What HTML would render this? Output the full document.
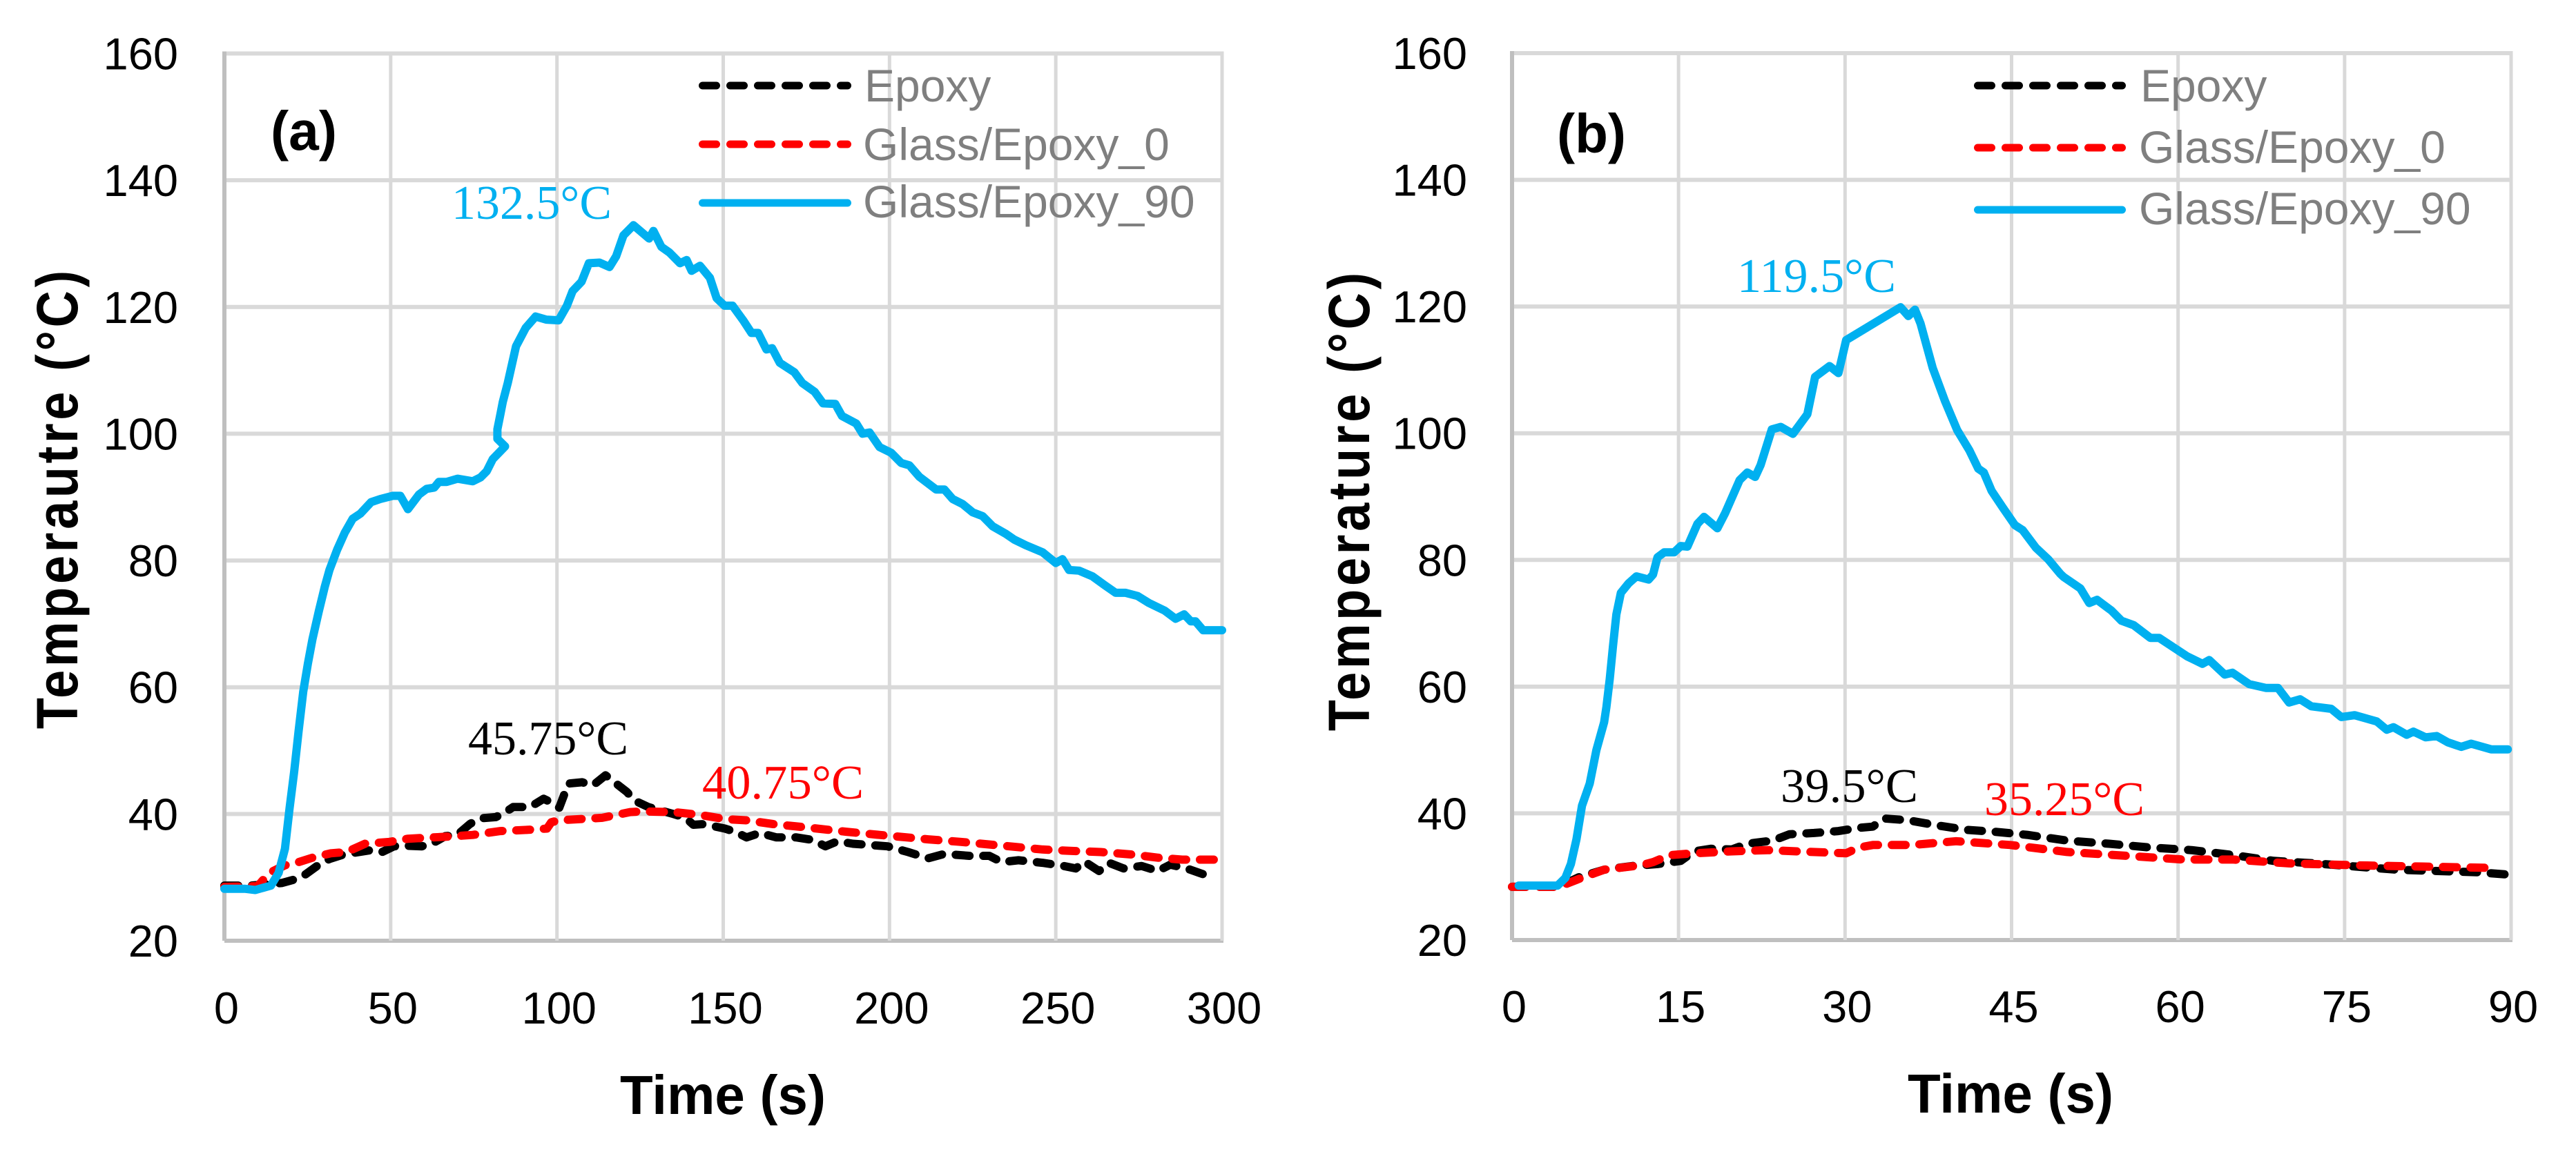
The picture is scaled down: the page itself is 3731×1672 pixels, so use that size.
<!DOCTYPE html>
<html lang="en">
<head>
<meta charset="utf-8">
<title>Temperature vs time</title>
<style>
html,body{margin:0;padding:0;background:#fff}
svg{display:block}
text{font-family:"Liberation Sans",sans-serif}
.ann{font-family:"Liberation Serif",serif;font-size:70px}
.tick{font-size:65px;fill:#000}
.leg{font-size:66px;fill:#7f7f7f}
.title{font-size:80px;font-weight:bold;fill:#000}
.ytitle{font-size:84px;font-weight:bold;fill:#000}
.tag{font-size:80px;font-weight:bold;fill:#000}
</style>
</head>
<body>
<svg id="fig" xmlns="http://www.w3.org/2000/svg" width="3731" height="1672" viewBox="0 0 3731 1672">
  <rect width="3731" height="1672" fill="#fff"/>
  <g id="panelA">
    <g id="gridA"></g>
    <g id="ticksA"></g>
    <g id="seriesA"></g>
    <text class="ytitle" transform="translate(112,724) rotate(-90) scale(.88,1)" text-anchor="middle" textLength="755" lengthAdjust="spacing">Temperautre (°C)</text>
    <text class="title" x="1047" y="1614" text-anchor="middle" textLength="298" lengthAdjust="spacingAndGlyphs">Time (s)</text>
    <text class="tag" x="392" y="217" textLength="96" lengthAdjust="spacingAndGlyphs">(a)</text>
    <line x1="1017.5" x2="1227.5" y1="124" y2="124" stroke="#000" stroke-width="11" stroke-linecap="round" stroke-dasharray="20 20"/>
    <line x1="1017.5" x2="1227.5" y1="209" y2="209" stroke="#f00" stroke-width="11" stroke-linecap="round" stroke-dasharray="20 20"/>
    <line x1="1017.5" x2="1227.5" y1="294" y2="294" stroke="#00b0f0" stroke-width="11" stroke-linecap="round"/>
    <text class="leg" x="1252" y="147">Epoxy</text>
    <text class="leg" x="1250" y="232">Glass/Epoxy_0</text>
    <text class="leg" x="1250" y="315">Glass/Epoxy_90</text>
    <text class="ann" x="654" y="317" fill="#00b0f0" textLength="232" lengthAdjust="spacingAndGlyphs">132.5°C</text>
    <text class="ann" x="678" y="1093" fill="#000" textLength="232" lengthAdjust="spacingAndGlyphs">45.75°C</text>
    <text class="ann" x="1017" y="1157" fill="#f00" textLength="234" lengthAdjust="spacingAndGlyphs">40.75°C</text>
  </g>
  <g id="panelB">
    <g id="gridB"></g>
    <g id="ticksB"></g>
    <g id="seriesB"></g>
    <text class="ytitle" transform="translate(1983,727) rotate(-90) scale(.88,1)" text-anchor="middle" textLength="755" lengthAdjust="spacing">Temperature (°C)</text>
    <text class="title" x="2912" y="1612" text-anchor="middle" textLength="298" lengthAdjust="spacingAndGlyphs">Time (s)</text>
    <text class="tag" x="2255" y="221" textLength="100" lengthAdjust="spacingAndGlyphs">(b)</text>
    <line x1="2864.5" x2="3073.5" y1="124" y2="124" stroke="#000" stroke-width="11" stroke-linecap="round" stroke-dasharray="20 20"/>
    <line x1="2864.5" x2="3073.5" y1="214" y2="214" stroke="#f00" stroke-width="11" stroke-linecap="round" stroke-dasharray="20 20"/>
    <line x1="2864.5" x2="3073.5" y1="304" y2="304" stroke="#00b0f0" stroke-width="11" stroke-linecap="round"/>
    <text class="leg" x="3100" y="147">Epoxy</text>
    <text class="leg" x="3098" y="236">Glass/Epoxy_0</text>
    <text class="leg" x="3098" y="325">Glass/Epoxy_90</text>
    <text class="ann" x="2516" y="423" fill="#00b0f0" textLength="230" lengthAdjust="spacingAndGlyphs">119.5°C</text>
    <text class="ann" x="2579" y="1162" fill="#000" textLength="199" lengthAdjust="spacingAndGlyphs">39.5°C</text>
    <text class="ann" x="2874" y="1181" fill="#f00" textLength="232" lengthAdjust="spacingAndGlyphs">35.25°C</text>
  </g>
</svg>
<script>
const yTicks = [20,40,60,80,100,120,140,160];
const xTicksA = [0,50,100,150,200,250,300];
const xTicksB = [0,15,30,45,60,75,90];

const epoxyTimeA = [0,7.9,17.2,21.4,24.2,28.4,31.6,35.8,44.1,47.4,51,54.3,59.4,62.7,66.4,70,73.8,76.6,81.6,84,86.8,88.6,91.9,96,99.2,100.7,102,103.4,107.6,110.8,114.6,117.3,121,123.4,127.5,135,138.7,141,144.2,150.5,153.6,157,161,166,172,177,180.7,184.4,189,199.4,205.6,211.6,216.5,224,230,233.8,238.8,246,252.4,256,258.6,263,266,270.4,275.8,280.7,284.4,289.4,294.3,298];
const epoxyTempA = [28.7,28.7,29.1,29.7,30.4,32,32.9,33.6,34.3,34,34.9,35,34.9,35.4,36.5,36.7,38.4,39.3,39.5,40.1,41.1,41.1,41.1,42.4,41.6,41,42.8,44.8,45,44.5,46.1,45,43.5,42.1,41.1,40,39.4,38.3,38.4,37.7,37.2,36.3,37,36.3,36.3,35.9,34.9,35.7,35.3,34.9,34,33,33.7,33.4,33.4,32.4,32.7,32.3,31.8,31.4,32.5,31,32.3,31.4,31.8,31,32,31.4,30.5,30.5];

const glass0TimeA = [0,10,13.5,18.2,22.3,26.5,32,36.7,42.3,49.6,55.2,66.4,74.7,83,91.4,97,98.3,100.6,113.6,122,125.6,135,142.4,150.5,157,165,174.6,187,197,211.6,221.5,236,246,253.6,263.5,273,280.7,288,298];
const glass0TempA = [28.5,28.6,30.7,31.9,32.4,33.1,33.8,34,35.3,35.6,36.1,36.4,36.7,37.3,37.5,37.7,38.7,39,39.4,40.3,40.4,40.3,39.9,39.2,39,38.4,37.9,37.2,36.7,36,35.6,34.9,34.4,34.2,34,33.6,33.1,32.8,32.8];

const glass90TimeA = [0,6.1,9.3,14,16.3,18.2,19.6,21,22.3,23.7,25.1,26.5,28.4,30.2,31.6,33.9,36.2,38.6,40.9,44.1,46.9,50.6,52.9,55.2,58.5,60.8,63.1,64.5,66.8,70.1,74.7,77,78.9,80.7,84.4,82.1,82.1,83,83.7,85.2,87.7,90.6,93.6,96.8,100.5,103,104.7,107.4,109.6,112.8,115.8,117.8,120,123,127.7,129,131.4,133.8,137,139,140.5,143,146,148,150.4,152.8,156,158.5,160.5,163,164.7,167,171.4,173.8,177.5,180,183.7,185.7,190,191.9,194,197,200.5,203.5,206,209,214,216.5,219,222,225,228,231,235,237.5,241,246,250,252,254,257,261,264.7,268,271,274.6,278,282.7,286,288.6,290.6,292,294.3,300];
const glass90TempA = [28.2,28.2,28,28.7,30.7,34.5,40.9,46.7,53,59.3,63.7,67.6,72,75.9,78.5,81.7,84.4,86.6,87.4,89.2,89.7,90.2,90.2,88.1,90.4,91.3,91.5,92.4,92.4,92.9,92.5,93.1,94.1,96,98,99.2,100.7,103.1,105,108,113.8,116.7,118.5,118,117.9,120.2,122.5,124,126.9,127,126.3,128,131.3,132.9,130.8,132,129.5,128.6,126.9,127.4,125.7,126.5,124.6,121.4,120.2,120.2,117.9,115.9,115.9,113.3,113.5,111.2,109.7,108,106.6,104.8,104.7,102.8,101.6,100,100.2,97.9,97,95.4,95,93.2,91.2,91.2,89.7,88.9,87.6,87,85.4,84.2,83.3,82.4,81.3,79.6,80.2,78.5,78.4,77.5,76.1,74.9,74.9,74.4,73.3,72.1,70.8,71.5,70.4,70.4,69,69];

const epoxyTimeB = [0,4.2,6,8.3,10.9,13.1,15.2,16.4,17.9,19.8,21.2,23.5,25,27.2,29.4,31.2,32.5,33.5,35.7,38.3,40.9,43.4,46.4,50,53.8,57.5,61.2,65,68.6,72.3,76,79.7,83.4,87,90];
const epoxyTempB = [28.4,28.4,29.9,31.1,31.7,32,32.5,34,34.4,34.3,35.2,35.7,36.7,36.9,37.2,37.7,37.9,39.2,38.9,38.1,37.4,37.1,36.6,35.7,35.2,34.6,34.2,33.4,32.5,32.1,31.6,31.1,30.9,30.7,30.3];

const glass0TimeB = [0,4.2,6.4,8.3,11.6,12.7,14.2,16.4,19.8,23,25.7,30.1,31.2,32.5,36,40,44.9,50,55.3,60.5,65,70,76,82,87.9];
const glass0TempB = [28.4,28.4,29.9,31.1,31.8,32.3,33.4,33.7,34,34.2,34,33.7,34.6,35,35,35.6,35,33.9,33.3,32.7,32.7,32.1,31.8,31.6,31.4];

const glass90TimeB = [0.6,4.1,4.8,5.3,5.8,6.3,7,7.6,8.3,8.5,8.8,9.1,9.4,9.8,10.5,11.2,12.3,12.7,13.1,13.7,14.6,15.2,15.8,16.7,17.3,18.5,19.2,20.5,21.2,21.9,22.4,23.4,24.2,25.3,26.6,27.3,28.6,29.4,30.1,35,35.7,36.3,36.8,37.9,39,40.1,41.2,42,42.5,43.2,44.2,45.3,46,47.2,48.3,49.4,49.7,51.2,52,52.7,54,54.9,56,57.5,58.3,60.8,62.2,62.8,64.2,64.9,66.4,67.9,69,70,71,72,73.8,74.7,75.9,77.9,78.8,79.4,80.6,81.2,82.3,83.3,84.3,85.5,86.4,88.2,89.7];
const glass90TempB = [28.6,28.6,29.8,32,35.9,41.2,44.7,50,54.4,56.8,61.2,66.5,71.4,74.8,76.3,77.4,76.9,77.7,80.4,81.2,81.2,82.2,82.1,85.7,86.8,85,87.4,92.6,93.8,93.1,95,100.6,101,99.9,103,108.9,110.6,109.5,114.7,119.9,118.5,119.5,117.3,110.3,105.1,100.5,97.3,94.4,93.8,90.9,88.3,85.5,84.7,81.9,80.1,77.8,77.3,75.5,73.2,73.7,72,70.4,69.7,67.7,67.7,64.8,63.6,64.2,61.9,62.2,60.4,59.8,59.8,57.5,58,56.9,56.5,55.2,55.5,54.5,53.2,53.6,52.4,52.9,52,52.2,51.2,50.5,51,50.1,50.1];

const NS = 'http://www.w3.org/2000/svg';

function drawPanel(suffix, left, right, top, bottom, xMax, xTicks, yLabelX, xLabelY, series) {
  const xScale = t => left + t * (right - left) / xMax;
  const yScale = v => bottom - (v - 20) * (bottom - top) / 140;
  const grid = document.getElementById('grid' + suffix);
  const ticks = document.getElementById('ticks' + suffix);
  const lines = document.getElementById('series' + suffix);
  const low = suffix.toLowerCase();

  yTicks.forEach(v => {
    const g = document.createElementNS(NS, 'line');
    
    
    g.setAttribute('x1', left); g.setAttribute('x2', right + 2);
    g.setAttribute('y1', yScale(v)); g.setAttribute('y2', yScale(v));
    g.setAttribute('stroke', v === 20 ? '#bfbfbf' : '#d9d9d9');
    g.setAttribute('stroke-width', 6);
    grid.appendChild(g);
    const t = document.createElementNS(NS, 'text');
    
    
    t.setAttribute('class', 'tick');
    t.setAttribute('x', yLabelX);
    t.setAttribute('y', yScale(v) + 23);
    t.setAttribute('text-anchor', 'end');
    t.textContent = v;
    ticks.appendChild(t);
  });

  xTicks.forEach((v, i) => {
    const g = document.createElementNS(NS, 'line');
    
    
    g.setAttribute('x1', xScale(v)); g.setAttribute('x2', xScale(v));
    g.setAttribute('y1', yScale(160) - 3); g.setAttribute('y2', yScale(20));
    g.setAttribute('stroke', i === 0 ? '#bfbfbf' : '#d9d9d9');
    g.setAttribute('stroke-width', i === 0 ? 6 : 5);
    grid.appendChild(g);
    const t = document.createElementNS(NS, 'text');
    
    
    t.setAttribute('class', 'tick');
    t.setAttribute('x', xScale(v) + 3);
    t.setAttribute('y', xLabelY);
    t.setAttribute('text-anchor', 'middle');
    t.textContent = v;
    ticks.appendChild(t);
  });

  series.forEach(s => {
    const p = document.createElementNS(NS, 'polyline');
    
    
    p.setAttribute('points', s.time.map((t, i) => xScale(t).toFixed(1) + ',' + yScale(s.temp[i]).toFixed(1)).join(' '));
    p.setAttribute('fill', 'none');
    p.setAttribute('stroke', s.color);
    p.setAttribute('stroke-width', 12);
    p.setAttribute('stroke-linecap', 'round');
    p.setAttribute('stroke-linejoin', 'round');
    if (s.dash) p.setAttribute('stroke-dasharray', '20 20');
    lines.appendChild(p);
  });
}

drawPanel('A', 325, 1770, 77.5, 1363, 300, xTicksA, 258, 1483, [
  {name:'epoxy', time:epoxyTimeA, temp:epoxyTempA, color:'#000', dash:true},
  {name:'glass-0', time:glass0TimeA, temp:glass0TempA, color:'#f00', dash:true},
  {name:'glass-90', time:glass90TimeA, temp:glass90TempA, color:'#00b0f0', dash:false}
]);
drawPanel('B', 2190, 3637, 77, 1362, 90, xTicksB, 2125, 1481, [
  {name:'epoxy', time:epoxyTimeB, temp:epoxyTempB, color:'#000', dash:true},
  {name:'glass-0', time:glass0TimeB, temp:glass0TempB, color:'#f00', dash:true},
  {name:'glass-90', time:glass90TimeB, temp:glass90TempB, color:'#00b0f0', dash:false}
]);
</script>
</body>
</html>
